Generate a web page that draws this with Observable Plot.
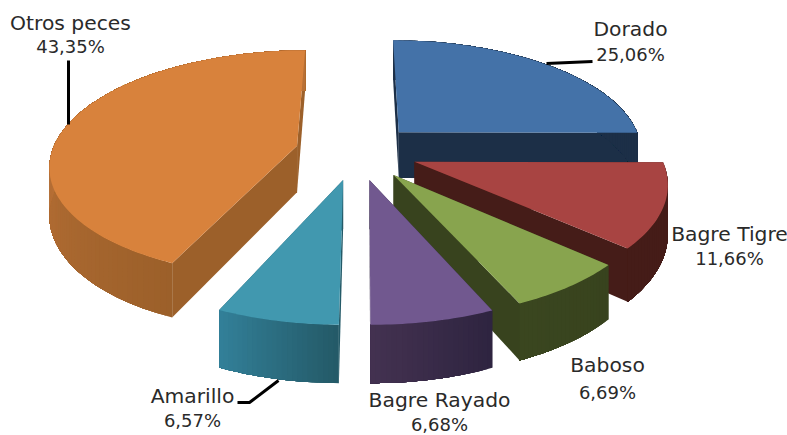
<!DOCTYPE html>
<html><head><meta charset="utf-8">
<style>html,body{margin:0;padding:0;background:#fff}svg{display:block}</style>
<script src="https://cdn.jsdelivr.net/npm/d3@7"></script>
<script src="https://cdn.jsdelivr.net/npm/@observablehq/plot@0.6"></script>
</head><body>
<script>
// Data
const species = ["Dorado","Bagre Tigre","Baboso","Bagre Rayado","Amarillo","Otros peces"];
const shares = [25.06,11.66,6.69,6.68,6.57,43.35];
const shareLabels = ["25,06%","11,66%","6,69%","6,68%","6,57%","43,35%"];
// Styles
const topColors = ["#4472a8","#a84442","#88a44e","#71588f","#4198af","#d8823c"];
const radialWall = ["#1c2f47","#451c18","#38431e","#2e2440","#245a68","#9c602a"];
const arcStart = ["#1c2f47","#451c18","#38431e","#2e2440","#245a68","#9c602a"];
const arcEnd = ["#1c2f47","#451c18","#3a461f","#443251","#33819a","#b87036"];
const drawOrder = [5,0,1,2,3,4];
// Layout
const W=787,H=435,cx=356,cy=151,rx=245,ry=112,k=0.157,thick=47,explode=0.25;
const nameAt=[[630,29],[729,234],[607,365],[439,400],[192,396],[70,23]];
const shareAt=[[630,55],[729,259],[607,393],[439,425],[192,421],[70,47]];
const leaders=[[[546,63],[592,61]],[[68,60],[68,124]],[[237,402],[249,402],[278,380]]];

function proj(u,v,z){const s=1/(1-k*v);return [cx+rx*u*s,cy+s*(ry*v+z)];}
const arcs=d3.pie().sort(null).startAngle(0).endAngle(2*Math.PI)(shares);
const polys=[];let id=0;
function poly(pts,c){const key=id++;for(const p of pts)polys.push({key,x:p[0],y:p[1],c});}
for(const i of drawOrder){
  const a=arcs[i],mid=(a.startAngle+a.endAngle)/2;
  const ou=explode*Math.sin(mid),ov=-explode*Math.cos(mid);
  const n=Math.max(24,Math.round((a.endAngle-a.startAngle)*40));
  const ring=d3.range(n+1).map(j=>{const t=a.startAngle+(a.endAngle-a.startAngle)*j/n;return [ou+Math.sin(t),ov-Math.cos(t)];});
  const first=ring[0],last=ring[n];
  poly([proj(ou,ov,0),proj(first[0],first[1],0),proj(first[0],first[1],thick),proj(ou,ov,thick)],radialWall[i]);
  poly([proj(ou,ov,0),proj(last[0],last[1],0),proj(last[0],last[1],thick),proj(ou,ov,thick)],radialWall[i]);
  const ramp=d3.interpolateRgb(arcStart[i],arcEnd[i]);
  for(let j=0;j<n;j++){
    // each band runs to the arc's end, so the next band paints over it with no seam
    const rest=ring.slice(j);
    const t=i===5?Math.min(1,(j/n)/0.45):j/n;
    poly([...rest.map(p=>proj(p[0],p[1],0)),...rest.slice().reverse().map(p=>proj(p[0],p[1],thick))],d3.rgb(ramp(t)).formatHex());
  }
  poly([proj(ou,ov,0),...ring.map(p=>proj(p[0],p[1],0))],topColors[i]);
}
const leaderRows=leaders.flatMap((l,g)=>l.map(p=>({g,x:p[0],y:p[1]})));
const labels=species.map((s,i)=>({t:s,x:nameAt[i][0],y:nameAt[i][1],s:20.3})).concat(shareLabels.map((s,i)=>({t:s,x:shareAt[i][0],y:shareAt[i][1],s:18})));
const chart=Plot.plot({
  width:W,height:H,margin:0,
  style:{background:"#fff"},
  x:{domain:[0,W],range:[0,W],axis:null},
  y:{domain:[0,H],range:[0,H],axis:null},
  marks:[
    Plot.line(polys,{x:"x",y:"y",z:"key",fill:"c",stroke:"none",curve:"linear-closed"}),
    Plot.line(leaderRows,{x:"x",y:"y",z:"g",stroke:"#000",strokeWidth:3,strokeLinejoin:"miter",strokeLinecap:"butt"}),
    Plot.text(labels,{x:"x",y:"y",text:"t",fill:"#2a2a2a",fontSize:"s",fontFamily:"DejaVu Sans",textAnchor:"middle"})
  ]
});
document.body.appendChild(chart);
</script>
</body></html>
